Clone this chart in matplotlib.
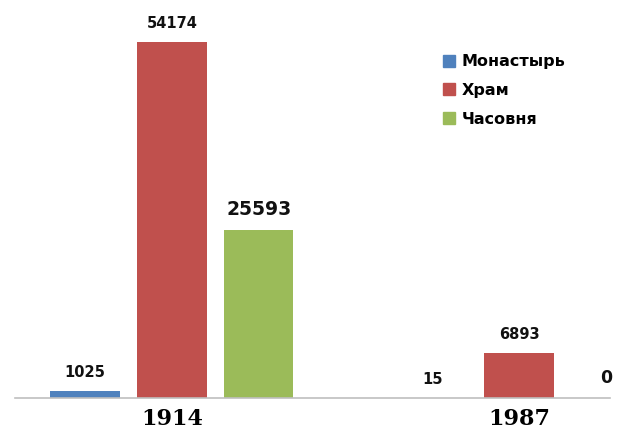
import matplotlib
matplotlib.use("Agg")
import matplotlib.pyplot as plt
from matplotlib.lines import Line2D
import numpy as np

years = ["1914", "1987"]
series = ["Монастырь", "Храм", "Часовня"]
values = {
    "Монастырь": [1025, 15],
    "Храм": [54174, 6893],
    "Часовня": [25593, 0],
}
colors = ["#4F81BD", "#C0504D", "#9BBB59"]
label_sizes = {
    "Монастырь": [10.5, 10.5],
    "Храм": [10.5, 10.5],
    "Часовня": [13.5, 12.5],
}

fig = plt.figure(figsize=(6.21, 4.33), dpi=100)
ax = fig.add_axes([15/621, 35/433, 595/621, 388/433])

x = np.arange(len(years))
step = 0.25
width = 0.2
for i, s in enumerate(series):
    bars = ax.bar(x + (i - 1) * step, values[s], width=width, color=colors[i], zorder=2)
    for b, v, fs in zip(bars, values[s], label_sizes[s]):
        ax.annotate(str(v), (b.get_x() + b.get_width()/2, b.get_height()),
                    xytext=(0, 8), textcoords="offset points",
                    ha="center", va="bottom", fontsize=fs, fontweight="bold",
                    family="DejaVu Sans", color="#111111", clip_on=False)

ax.set_xlim(-0.452, 1.262)
ax.set_ylim(0, 59050)
for sp in ["top", "right", "left"]:
    ax.spines[sp].set_visible(False)
ax.spines["bottom"].set_color("#BFBFBF")
ax.spines["bottom"].set_linewidth(1.2)
ax.set_yticks([])
ax.set_xticks(x)
ax.set_xticklabels(years, family="DejaVu Serif", fontweight="bold", fontsize=16)
ax.tick_params(axis="x", length=0, pad=7)

handles = [Line2D([0], [0], marker="s", color="none", markerfacecolor=c,
                  markeredgecolor=c, markersize=8) for c in colors]
leg = fig.legend(handles, series, loc="upper left", bbox_to_anchor=(428/621, 1 - 40/433),
                 frameon=False, prop={"family": "DejaVu Sans", "weight": "bold", "size": 11.5},
                 handlelength=0.8, handletextpad=0.4, labelspacing=0.85)

fig.savefig("out.png", dpi=100)
